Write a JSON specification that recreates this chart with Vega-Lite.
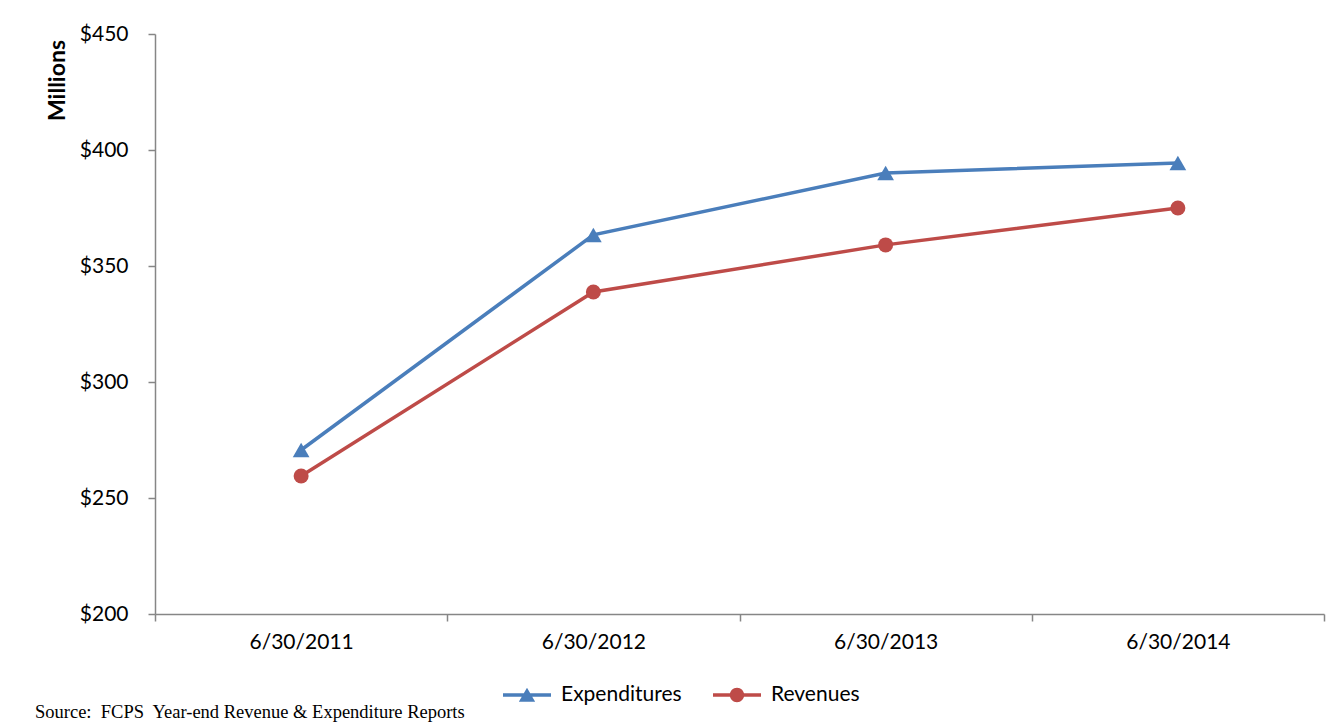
{
  "$schema": "https://vega.github.io/schema/vega-lite/v6.json",
  "autosize": "none",
  "width": 1169,
  "height": 580,
  "padding": {"left": 155, "top": 34, "right": 14, "bottom": 109},
  "background": "white",
  "config": {
    "view": {"stroke": null},
    "font": "Lato"
  },
  "title": {
    "text": "Source:\u00a0 FCPS\u00a0 Year-end Revenue & Expenditure Reports",
    "orient": "bottom",
    "anchor": "start",
    "frame": "group",
    "font": "Liberation Serif",
    "fontSize": 18.5,
    "fontWeight": "normal",
    "color": "#000000",
    "dx": -120,
    "offset": -2
  },
  "data": {
    "values": [
      {"date": "6/30/2011", "series": "Expenditures", "value": 270.7},
      {"date": "6/30/2012", "series": "Expenditures", "value": 363.4},
      {"date": "6/30/2013", "series": "Expenditures", "value": 390.1},
      {"date": "6/30/2014", "series": "Expenditures", "value": 394.4},
      {"date": "6/30/2011", "series": "Revenues", "value": 259.5},
      {"date": "6/30/2012", "series": "Revenues", "value": 338.8},
      {"date": "6/30/2013", "series": "Revenues", "value": 359.1},
      {"date": "6/30/2014", "series": "Revenues", "value": 375.0}
    ]
  },
  "encoding": {
    "x": {
      "field": "date",
      "type": "ordinal",
      "sort": null,
      "scale": {"type": "band", "paddingInner": 0, "paddingOuter": 0},
      "axis": {
        "title": null,
        "labelAngle": 0,
        "labelFont": "Lato",
        "labelFontSize": 21,
        "labelColor": "#000000",
        "labelPadding": 10,
        "tickBand": "extent",
        "tickSize": 7,
        "tickColor": "#868686",
        "domainColor": "#868686",
        "domainWidth": 1.5,
        "tickWidth": 1.5,
        "grid": false
      }
    },
    "y": {
      "field": "value",
      "type": "quantitative",
      "scale": {"domain": [200, 450], "nice": false, "zero": false},
      "axis": {
        "title": "Millions",
        "titleFont": "Lato",
        "titleFontSize": 23,
        "titleFontWeight": "bold",
        "titleColor": "#000000",
        "titleAngle": -90,
        "titleAlign": "center",
        "titleBaseline": "middle",
        "titleX": -98,
        "titleY": 46,
        "values": [200, 250, 300, 350, 400, 450],
        "labelExpr": "'$' + datum.value",
        "labelFont": "Lato",
        "labelFontSize": 21,
        "labelColor": "#000000",
        "labelPadding": 20,
        "tickSize": 7,
        "tickColor": "#868686",
        "domainColor": "#868686",
        "domainWidth": 1.5,
        "tickWidth": 1.5,
        "grid": false
      }
    },
    "color": {
      "field": "series",
      "type": "nominal",
      "scale": {"domain": ["Expenditures", "Revenues"], "range": ["#4A7EBB", "#BE4B48"]},
      "legend": {
        "orient": "none",
        "legendX": 348,
        "legendY": 637,
        "direction": "horizontal",
        "title": null,
        "symbolSize": 2304,
        "labelFont": "Lato",
        "labelFontSize": 21,
        "labelColor": "#000000",
        "labelOffset": 10,
        "columnPadding": 31,
        "encode": {
          "symbols": {
            "update": {
              "shape": [
                {"test": "datum.value === 'Expenditures'", "value": "M-1,-0.07 L1,-0.07 L1,0.07 L-1,0.07 Z M0,-0.3 L0.34,0.28 L-0.34,0.28 Z"},
                {"value": "M-1,-0.07 L1,-0.07 L1,0.07 L-1,0.07 Z M0.3,0 A0.3,0.3 0 1,1 -0.3,0 A0.3,0.3 0 1,1 0.3,0 Z"}
              ],
              "fill": [
                {"test": "datum.value === 'Expenditures'", "value": "#4A7EBB"},
                {"value": "#BE4B48"}
              ],
              "fillOpacity": {"value": 1},
              "strokeWidth": {"value": 0},
              "opacity": {"value": 1}
            }
          }
        }
      }
    }
  },
  "layer": [
    {
      "mark": {"type": "line", "strokeWidth": 3.5}
    },
    {
      "transform": [{"filter": "datum.series === 'Expenditures'"}],
      "mark": {"type": "point", "filled": true, "opacity": 1, "size": 280, "shape": "triangle-up"}
    },
    {
      "transform": [{"filter": "datum.series === 'Revenues'"}],
      "mark": {"type": "point", "filled": true, "opacity": 1, "size": 225, "shape": "circle"}
    }
  ]
}
